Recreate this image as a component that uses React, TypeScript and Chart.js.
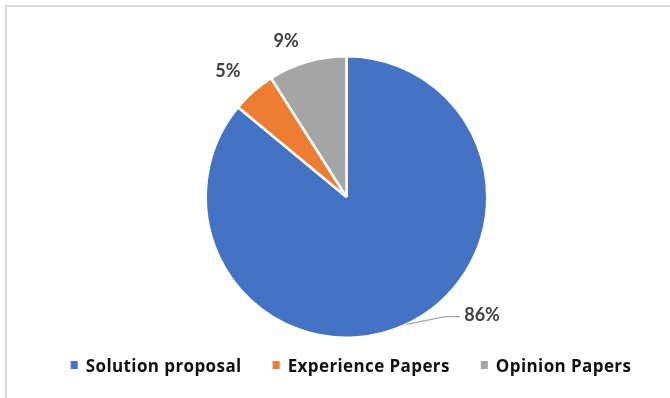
import React, { useEffect, useRef } from "react";
import { Chart, registerables } from "chart.js";

Chart.register(...registerables);

const categories = ["Solution proposal", "Experience Papers", "Opinion Papers"];
const values = [86, 5, 9];
const colors = ["#4472C4", "#ED7D31", "#A5A5A5"];
const percentLabels = ["86%", "5%", "9%"];
// label placement relative to each slice: angle shift (deg) from slice middle, distance factor of radius
const labelAngleShift = [-23.6, -2, -4.9];
const labelDistance = [1.28, 1.227, 1.19];
const showLeader = [true, false, false];

const FONT = "Lato, 'Open Sans', sans-serif";
const LEGEND_FONT = "'Open Sans', Lato, sans-serif";

const labelPlugin = {
  id: "pctLabels",
  afterDatasetsDraw(chart: any) {
    const ctx = chart.ctx;
    const meta = chart.getDatasetMeta(0);
    ctx.save();
    ctx.font = `bold 18px ${FONT}`;
    ctx.fillStyle = "#404040";
    ctx.textAlign = "center";
    ctx.textBaseline = "middle";
    meta.data.forEach((arc: any, i: number) => {
      const { x, y, startAngle, endAngle, outerRadius } = arc.getProps(
        ["x", "y", "startAngle", "endAngle", "outerRadius"],
        true
      );
      const mid = (startAngle + endAngle) / 2;
      const a = mid + (labelAngleShift[i] * Math.PI) / 180;
      const r = outerRadius * labelDistance[i];
      const lx = x + r * Math.cos(a);
      const ly = y + r * Math.sin(a);
      const text = percentLabels[i];
      if (showLeader[i]) {
        const w = ctx.measureText(text).width;
        const left = lx - w / 2;
        ctx.beginPath();
        ctx.strokeStyle = "#A6A6A6";
        ctx.lineWidth = 1.2;
        ctx.moveTo(x + outerRadius * Math.cos(mid), y + outerRadius * Math.sin(mid));
        ctx.lineTo(left - 19, ly + 1);
        ctx.lineTo(left - 4, ly + 1);
        ctx.stroke();
      }
      ctx.fillText(text, lx, ly);
    });
    ctx.restore();
  },
};

const legendPlugin = {
  id: "customLegend",
  afterDraw(chart: any) {
    const ctx = chart.ctx;
    ctx.save();
    ctx.font = `bold 17px ${LEGEND_FONT}`;
    try {
      (ctx as any).letterSpacing = "0.4px";
    } catch (e) {}
    ctx.textBaseline = "middle";
    ctx.textAlign = "left";
    const box = 7;
    const boxGap = 8;
    const itemGap = 31;
    const widths = categories.map((c) => ctx.measureText(c).width);
    const total =
      widths.reduce((s, w) => s + w, 0) + categories.length * (box + boxGap) + (categories.length - 1) * itemGap;
    let cx = 351 - total / 2;
    const cy = 367;
    categories.forEach((c, i) => {
      ctx.fillStyle = colors[i];
      ctx.fillRect(cx, cy - 6, box, 8);
      cx += box + boxGap;
      ctx.fillStyle = "#111111";
      ctx.fillText(c, cx, cy);
      cx += widths[i] + itemGap;
    });
    ctx.restore();
  },
};

export default function App() {
  const ref = useRef<HTMLCanvasElement | null>(null);
  useEffect(() => {
    if (!ref.current) return;
    const chart = new Chart(ref.current, {
      type: "pie",
      data: {
        labels: categories,
        datasets: [
          {
            data: values,
            backgroundColor: colors,
            borderColor: "#ffffff",
            borderWidth: 2.5,
          },
        ],
      },
      options: {
        responsive: false,
        animation: false,
        layout: { padding: { left: 204, right: 181, top: 55, bottom: 59 } },
        plugins: {
          legend: { display: false },
          tooltip: { enabled: false },
        },
      },
      plugins: [labelPlugin, legendPlugin],
    });
    return () => chart.destroy();
  }, []);
  return (
    <div style={{ position: "fixed", left: 0, top: 0, width: 670, height: 398, background: "#fff", overflow: "hidden" }}>
      <div
        style={{
          position: "absolute",
          left: 5,
          top: 5,
          width: 700,
          height: 420,
          borderLeft: "2px solid #D9D9D9",
          borderTop: "2px solid #D9D9D9",
        }}
      />
      <canvas ref={ref} width={670} height={398} style={{ position: "absolute", left: 0, top: 0 }} />
    </div>
  );
}
